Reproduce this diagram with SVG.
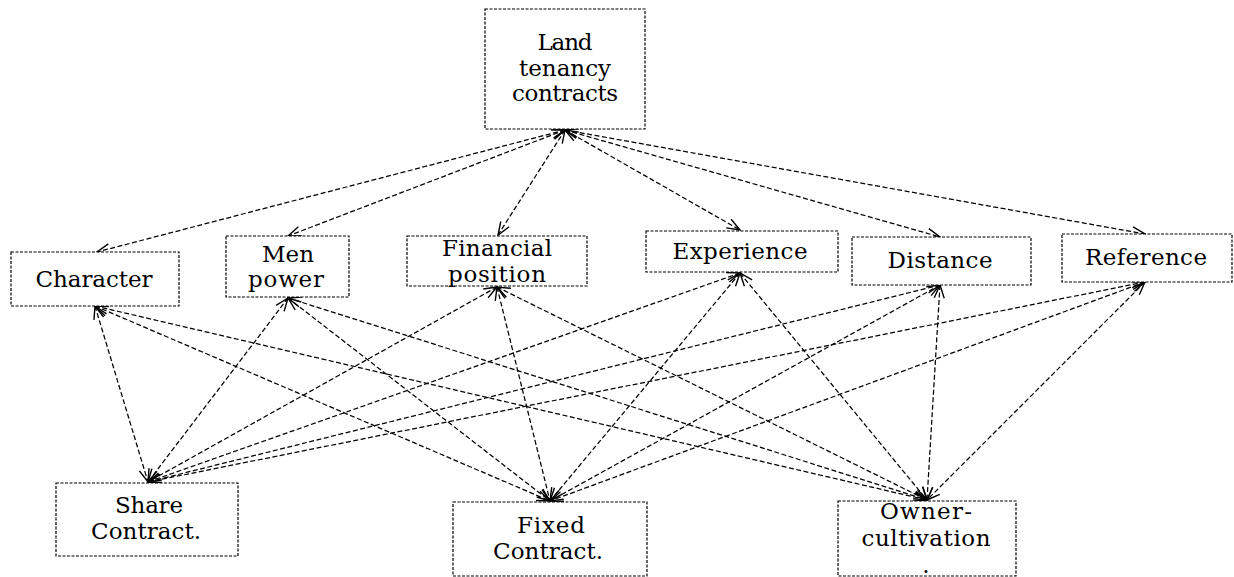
<svg xmlns="http://www.w3.org/2000/svg" width="1234" height="577" viewBox="0 0 1234 577">
<style>
.box{fill:#fff;stroke:#000;stroke-width:1.2;stroke-dasharray:3,1.5}
.c line{stroke:#000;stroke-width:1.25;stroke-dasharray:5,2.5;marker-start:url(#a);marker-end:url(#a)}
text{font-family:'DejaVu Serif','Liberation Serif',serif;font-size:23px}
</style>
<defs>
<marker id="a" viewBox="-14 -6 15 12" refX="0" refY="0" markerWidth="15" markerHeight="12" markerUnits="userSpaceOnUse" orient="auto-start-reverse">
<path d="M-13,-5 L0,0 L-13,5" fill="none" stroke="#000" stroke-width="1.4" stroke-dasharray="none"/>
</marker>
</defs>
<rect width="1234" height="577" fill="#fff"/>
<g id="connectors" class="c">
<line x1="565" y1="130" x2="97" y2="252"/>
<line x1="565" y1="130" x2="288" y2="236"/>
<line x1="565" y1="130" x2="498" y2="235"/>
<line x1="565" y1="130" x2="740" y2="230"/>
<line x1="565" y1="130" x2="940" y2="237"/>
<line x1="565" y1="130" x2="1145" y2="234"/>
<line x1="95" y1="306" x2="148" y2="482"/>
<line x1="95" y1="306" x2="550" y2="501"/>
<line x1="95" y1="306" x2="927" y2="500"/>
<line x1="288" y1="298" x2="148" y2="482"/>
<line x1="288" y1="298" x2="550" y2="501"/>
<line x1="288" y1="298" x2="927" y2="500"/>
<line x1="497" y1="287" x2="148" y2="482"/>
<line x1="497" y1="287" x2="550" y2="501"/>
<line x1="497" y1="287" x2="927" y2="500"/>
<line x1="740" y1="273" x2="148" y2="482"/>
<line x1="740" y1="273" x2="550" y2="501"/>
<line x1="740" y1="273" x2="927" y2="500"/>
<line x1="940" y1="285" x2="148" y2="482"/>
<line x1="940" y1="285" x2="550" y2="501"/>
<line x1="940" y1="285" x2="927" y2="500"/>
<line x1="1145" y1="282" x2="148" y2="482"/>
<line x1="1145" y1="282" x2="550" y2="501"/>
<line x1="1145" y1="282" x2="927" y2="500"/>
</g>
<g fill="#000" text-anchor="middle">
<g id="land">
<rect class="box" x="485" y="9" width="160" height="120"/>
<text x="565" y="50" textLength="55" lengthAdjust="spacing">Land</text>
<text x="565" y="76" textLength="92" lengthAdjust="spacing">tenancy</text>
<text x="565" y="101" textLength="106" lengthAdjust="spacing">contracts</text>
</g>
<g id="character">
<rect class="box" x="11" y="252" width="168" height="54"/>
<text x="94" y="287" textLength="117" lengthAdjust="spacing">Character</text>
</g>
<g id="menpower">
<rect class="box" x="226" y="236" width="123" height="61"/>
<text x="288" y="262" textLength="52" lengthAdjust="spacing">Men</text>
<text x="286" y="287" textLength="76" lengthAdjust="spacing">power</text>
</g>
<g id="financial">
<rect class="box" x="407" y="236" width="180" height="50"/>
<text x="497" y="256" textLength="110" lengthAdjust="spacing">Financial</text>
<text x="497" y="282" textLength="98" lengthAdjust="spacing">position</text>
</g>
<g id="experience">
<rect class="box" x="646" y="231" width="192" height="41"/>
<text x="740" y="259" textLength="135" lengthAdjust="spacing">Experience</text>
</g>
<g id="distance">
<rect class="box" x="852" y="237" width="179" height="48"/>
<text x="940" y="268" textLength="105" lengthAdjust="spacing">Distance</text>
</g>
<g id="reference">
<rect class="box" x="1062" y="234" width="170" height="48"/>
<text x="1146" y="265" textLength="122" lengthAdjust="spacing">Reference</text>
</g>
<g id="share">
<rect class="box" x="56" y="483" width="182" height="73"/>
<text x="149" y="513" textLength="68" lengthAdjust="spacing">Share</text>
<text x="146" y="539" textLength="110" lengthAdjust="spacing">Contract.</text>
</g>
<g id="fixed">
<rect class="box" x="453" y="502" width="194" height="74"/>
<text x="551" y="533" textLength="68" lengthAdjust="spacing">Fixed</text>
<text x="548" y="559" textLength="110" lengthAdjust="spacing">Contract.</text>
</g>
<g id="owner">
<rect class="box" x="838" y="501" width="178" height="75"/>
<text x="926" y="519" textLength="92" lengthAdjust="spacing">Owner-</text>
<text x="926" y="546" textLength="129" lengthAdjust="spacing">cultivation</text>
<text x="926" y="573">.</text>
</g>
</g>
</svg>
